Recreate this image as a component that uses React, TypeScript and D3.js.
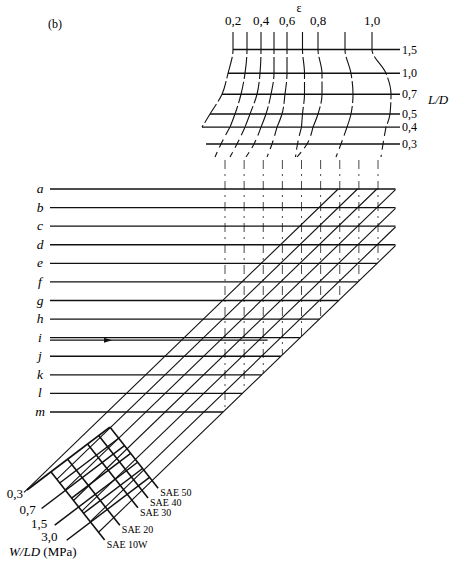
import React from 'react';
import * as d3 from 'd3';

// ε scale along the top, and the ε curves
const epsTicks = [0.2, 0.4, 0.6, 0.8, 1.0];
const epsValues = [0.2, 0.3, 0.4, 0.5, 0.6, 0.7, 0.8, 0.9, 1.0];
const ldValues = [1.5, 1.0, 0.7, 0.5, 0.4, 0.3];
// sideways drift (px) of each ε curve at L/D = 1.5 … 0.3, then at the tail
const epsDrift: (number | null)[][] = [
  [0, -5, -11, -23, -31, null, null],
  [0, -2, -6, -12, -17, -26, -32],
  [0, -1, -4, -11, -16, -24, -31],
  [0, 0, -3, -8, -13, -20, -28],
  [0, 0, -2, -5, -10, -15, -20],
  [0, 2, 2, 0, -1, -5, -7],
  [0, 4, 4, 0, -5, -11, -21],
  [0, 6, 8, 6, 2, -4, -9],
  [0, 14, 19, 18, 14, 11, 9],
];
const rowLabels = ['a', 'b', 'c', 'd', 'e', 'f', 'g', 'h', 'i', 'j', 'k', 'l', 'm'];
const slantCount = 7;
const wldValues = [0.3, 0.5, 0.7, 1.0, 1.5, 2.0, 3.0];
const wldLabeled = [0.3, 0.7, 1.5, 3.0];
const saeGrades = ['SAE 10W', 'SAE 20', 'SAE 30', 'SAE 40', 'SAE 50'];

const fmt = (v: number) => d3.format('.1f')(v).replace('.', ',');
const serif = 'Liberation Serif, Times New Roman, DejaVu Serif, serif';

export default function App() {
  const width = 454, height = 569;

  // top block
  const epsX = d3.scaleLinear().domain(epsTicks).range([233, 261, 287, 318, 372]);
  const ldY = d3.scaleLog().domain([0.3, 1.5]).range([144, 49.5]);
  const topY = 32, tailY = 157, ldRight = 400;
  const levelY = [...ldValues.map(v => ldY(v)), tailY];
  const curveX = (i: number, j: number) =>
    epsDrift[i][j] == null ? null : epsX(epsValues[i]) + (epsDrift[i][j] as number);
  const line = d3.line<[number, number]>().curve(d3.curveMonotoneY);

  // middle band
  const rowY = d3.scalePoint<string>().domain(rowLabels).range([189, 412]);
  const k = 1.036;
  const slant = d3.scaleLinear().domain([0, slantCount - 1]).range([534, 650]);
  const bandTop = rowY('a')!;
  const bandRight = 395.5;
  const rowEnd = (y: number) => Math.min(bandRight, slant(slantCount - 1) - k * y);
  const guideX = d3.scaleLinear().domain([0.2, 1.0]).range([225, 378]);

  // bottom grid
  const P0 = [27, 490];
  const u = [0.7966, -0.6047];
  const v = [0.62, 0.785];
  const pt = (a: number, b: number): [number, number] =>
    [P0[0] + a * u[0] + b * v[0], P0[1] + a * u[1] + b * v[1]];
  const wScale = d3.scaleLog().domain([0.3, 3]).range([0, 64]);
  const saeScale = d3.scaleOrdinal<string, number>().domain(saeGrades).range([30, 51, 76, 90, 104]);
  const cP0 = P0[0] + k * P0[1], cu = u[0] + k * u[1], cv = v[0] + k * v[1];
  const a10 = saeScale('SAE 10W'), a50 = saeScale('SAE 50');

  const slants = d3.range(slantCount).map(i => {
    const c = slant(i);
    const top: [number, number] = c - k * bandTop <= bandRight
      ? [c - k * bandTop, bandTop] : [bandRight, (c - bandRight) / k];
    const b = (c - cP0 - a10 * cu) / cv;
    const bot = b >= 0 ? pt(a10, b) : pt((c - cP0) / cu, 0);
    return [bot, top];
  });

  const iy = rowY('i')! + 2.5;

  return (
    <svg width={width} height={height}
      style={{ position: 'absolute', left: 0, top: 0, background: '#fff', fontFamily: serif }}>
      <text x={55} y={28} fontSize={12} textAnchor="middle">(b)</text>

      {/* ε curves */}
      <text x={299} y={12} fontSize={12} textAnchor="middle">ε</text>
      {epsTicks.map(t => (
        <text key={t} x={epsX(t)} y={25} fontSize={13} textAnchor="middle">{fmt(t)}</text>
      ))}
      {epsValues.map((e, i) => {
        const head: [number, number][] = [[epsX(e), topY]];
        for (let j = 0; j <= 4; j++) head.push([curveX(i, j)!, levelY[j]]);
        const tail: [number, number][] = [];
        for (let j = 4; j <= 6; j++) if (curveX(i, j) != null) tail.push([curveX(i, j)!, levelY[j]]);
        return (
          <g key={e} fill="none" stroke="#111">
            <path d={line(head)!} strokeWidth={1.1} strokeDasharray="22 3" />
            {tail.length > 1 && <path d={line(tail)!} strokeWidth={1.1} strokeDasharray="9 5" />}
          </g>
        );
      })}
      {ldValues.map((ld, j) => {
        const y = ldY(ld);
        const left = curveX(0, j) ?? curveX(1, j)! - 15;
        return (
          <g key={ld}>
            <line x1={left} x2={ldRight} y1={y} y2={y} stroke="#111" strokeWidth={1.4} />
            <text x={ldRight + 2} y={y + 4} fontSize={12}>{fmt(ld)}</text>
          </g>
        );
      })}
      <text x={428} y={104} fontSize={13} fontStyle="italic">L/D</text>

      {/* guides down from ε */}
      {epsValues.map(e => {
        const x = guideX(e);
        return <line key={e} x1={x} x2={x} y1={160} y2={(slant(slantCount - 1) - x) / k}
          stroke="#333" strokeWidth={0.9} strokeDasharray="9 5 2 5" />;
      })}

      {/* rows a–m */}
      {rowLabels.map(r => {
        const y = rowY(r)!;
        return (
          <g key={r}>
            <line x1={50} x2={rowEnd(y)} y1={y} y2={y} stroke="#111" strokeWidth={1.3} />
            <text x={40} y={y + 4} fontSize={13.5} fontStyle="italic" textAnchor="middle">{r}</text>
          </g>
        );
      })}
      <line x1={50} x2={rowEnd(iy) - 30} y1={iy} y2={iy} stroke="#111" strokeWidth={1.2} />
      <path d={`M${104},${iy - 2.5}L${112},${iy}L${104},${iy + 2.5}Z`} fill="#111" />

      {/* slanted family */}
      {slants.map((s, i) => (
        <line key={i} x1={s[0][0]} y1={s[0][1]} x2={s[1][0]} y2={s[1][1]} stroke="#111" strokeWidth={1.1} />
      ))}

      {/* W/LD × SAE grid */}
      {wldValues.map(w => {
        const lab = wldLabeled.includes(w);
        const off = wScale(w);
        const p1 = pt(lab ? 0 : a10, off);
        const p2 = pt(a50, off);
        return (
          <g key={w}>
            <line x1={p1[0]} y1={p1[1]} x2={p2[0]} y2={p2[1]} stroke="#111" strokeWidth={w === 0.3 ? 1.8 : 1.5} />
            {lab && <text x={p1[0] - 4 - off * 0.08} y={p1[1] + 8 - off * 0.11}
              fontSize={13} textAnchor="end">{fmt(w)}</text>}
          </g>
        );
      })}
      {saeGrades.map(g => {
        const a = saeScale(g);
        const bEnd = (664 - cP0 - a * cu) / cv;
        const p1 = pt(a, 0), p2 = pt(a, bEnd);
        return (
          <g key={g}>
            <line x1={p1[0]} y1={p1[1]} x2={p2[0]} y2={p2[1]} stroke="#111" strokeWidth={1.6} />
            <text x={p2[0] + 2} y={p2[1] + 8} fontSize={10}>{g}</text>
          </g>
        );
      })}
      <text x={9} y={556} fontSize={13}>
        <tspan fontStyle="italic">W/LD</tspan> (MPa)
      </text>
    </svg>
  );
}
